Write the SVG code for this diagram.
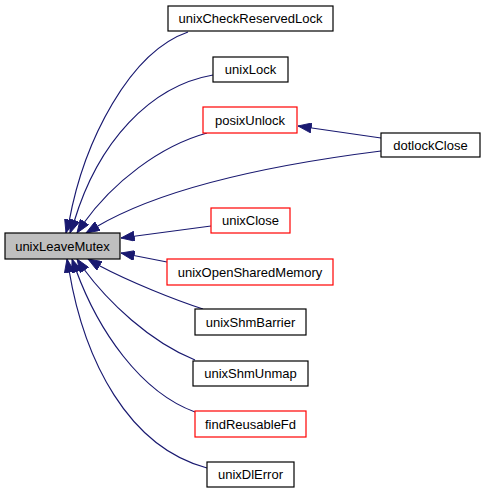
<svg xmlns="http://www.w3.org/2000/svg" width="484" height="493" viewBox="0 0 484 493">
<style>
.n rect{fill:#fff;stroke:#000;stroke-width:1.2}
.n.red rect{stroke:#ff0000}
.n.root rect{fill:#bfbfbf}
.n text{font-family:"Liberation Sans",Arial,sans-serif;font-size:13px;fill:#000;text-anchor:middle}
.e path{fill:none;stroke:#191970;stroke-width:1.2;marker-end:url(#ah)}
</style>
<defs>
<marker id="ah" markerUnits="userSpaceOnUse" markerWidth="14" markerHeight="10" refX="12" refY="4.5" orient="auto" viewBox="0 0 12 9">
<path d="M0,0 L12,4.5 L0,9 z" fill="#191970" stroke="#191970" stroke-width="0.8"/>
</marker>
</defs>
<rect width="484" height="493" fill="#fff"/>
<g id="edges" class="e">
<path d="M188,32 C130,52 84,140 69,222 L66,233"/>
<path d="M213,75 C150,86 98,142 74,222 L70,233"/>
<path d="M207,133 C160,146 113,182 83,224 L77,233"/>
<path d="M381,151 C270,165 162,188 96,227 L86,233"/>
<path d="M381,138 L298,126"/>
<path d="M211,226 L121,238"/>
<path d="M167,262 L121,253"/>
<path d="M203,309 C175,300 130,282 98,265 L88,259"/>
<path d="M195,360 C150,342 108,302 83,268 L77,259"/>
<path d="M195,412 C140,392 98,330 76,270 L72,259"/>
<path d="M207,468 C128,447 84,360 69,270 L67,259"/>
</g>
<g id="unixLeaveMutex" class="n root"><rect x="5" y="233" width="115" height="26"/><text x="62.5" y="250.5">unixLeaveMutex</text></g>
<g id="unixCheckReservedLock" class="n"><rect x="168" y="6" width="165" height="25"/><text x="250.5" y="23">unixCheckReservedLock</text></g>
<g id="unixLock" class="n"><rect x="213" y="57" width="75" height="25"/><text x="250.5" y="74">unixLock</text></g>
<g id="posixUnlock" class="n red"><rect x="203" y="107" width="94" height="26"/><text x="250" y="124.5">posixUnlock</text></g>
<g id="dotlockClose" class="n"><rect x="381" y="133" width="99" height="24"/><text x="430.5" y="149.5">dotlockClose</text></g>
<g id="unixClose" class="n red"><rect x="211" y="208" width="79" height="25"/><text x="250.5" y="225">unixClose</text></g>
<g id="unixOpenSharedMemory" class="n red"><rect x="167" y="259" width="166" height="26"/><text x="250" y="276.5">unixOpenSharedMemory</text></g>
<g id="unixShmBarrier" class="n"><rect x="195" y="309" width="111" height="26"/><text x="250.5" y="326.5">unixShmBarrier</text></g>
<g id="unixShmUnmap" class="n"><rect x="193" y="361" width="115" height="25"/><text x="250.5" y="378">unixShmUnmap</text></g>
<g id="findReusableFd" class="n red"><rect x="195" y="411" width="111" height="26"/><text x="250.5" y="428.5">findReusableFd</text></g>
<g id="unixDlError" class="n"><rect x="207" y="462" width="87" height="25"/><text x="250.5" y="479">unixDlError</text></g>
</svg>
